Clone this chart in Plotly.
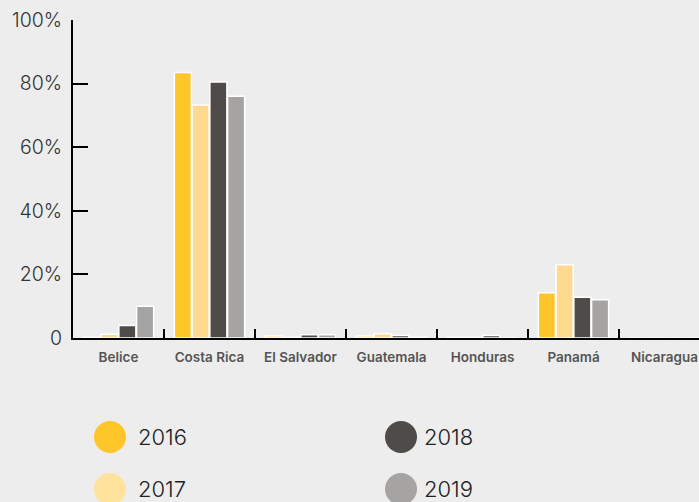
import plotly.graph_objects as go

categories = ["Belice", "Costa Rica", "El Salvador", "Guatemala", "Honduras", "Panamá", "Nicaragua"]
years = ["2016", "2017", "2018", "2019"]
v2016 = [0.2, 83.5, 0.6, 0.6, 0.2, 14.2, 0]
v2017 = [1.2, 73.3, 0.2, 1.3, 0.2, 23.0, 0]
v2018 = [3.9, 80.5, 1.0, 0.8, 0.8, 12.8, 0]
v2019 = [10.0, 76.0, 1.0, 0.2, 0.0, 12.0, 0]
series = [v2016, v2017, v2018, v2019]
colors = ["#FFC629", "#FFD98E", "#4F4B48", "#A5A4A2"]
legend_colors = ["#FFC629", "#FFE39D", "#4F4B48", "#A5A4A2"]
ytick_vals = [0, 20, 40, 60, 80, 100]
ytick_text = ["0", "20%", "40%", "60%", "80%", "100%"]

FONT = "Inter"
fig = go.Figure()
for name, vals, col in zip(years, series, colors):
    fig.add_trace(go.Bar(
        x=categories, y=vals, name=name,
        marker=dict(color=col, line=dict(color="white", width=1.5)),
        showlegend=False,
    ))

W, H = 699, 502
L, R, T, B = 73, 0, 20, 164
pw, ph = W - L - R, H - T - B

fig.update_layout(
    width=W, height=H,
    margin=dict(l=L, r=R, t=T, b=B),
    paper_bgcolor="#EDEDED", plot_bgcolor="#EDEDED",
    barmode="group", bargap=0.22, bargroupgap=0.04,
    font=dict(family=FONT, color="#333"),
)
fig.update_xaxes(
    range=[-0.5, -0.5 + pw / 91.0],
    showgrid=False, zeroline=False,
    showline=True, linecolor="black", linewidth=2,
    ticks="inside", tickson="boundaries", ticklen=9, tickwidth=2, tickcolor="black",
    tickfont=dict(family=FONT, size=13.5, color="#555", weight=600),
    ticklabelstandoff=6,
)
fig.update_yaxes(
    range=[0, 100],
    tickvals=ytick_vals, ticktext=ytick_text,
    showgrid=False, zeroline=False,
    showline=True, linecolor="black", linewidth=2,
    ticks="inside", ticklen=15, tickwidth=2, tickcolor="black",
    tickfont=dict(family=FONT, size=19.5, color="#333", weight=300),
    ticklabelstandoff=5,
)

# manual legend (two columns)
circles = [(110, 437), (110, 489), (401, 437), (401, 489)]
text_x = [136, 136, 422, 422]
for (px, py), tx, name, col in zip(circles, text_x, years, legend_colors):
    xa = (px - L) / pw
    ya = (H - B - py) / ph
    fig.add_shape(type="circle", xref="paper", yref="paper",
                  xsizemode="pixel", ysizemode="pixel",
                  xanchor=xa, yanchor=ya, x0=-16, x1=16, y0=-16, y1=16,
                  fillcolor=col, line=dict(width=0))
    fig.add_annotation(xref="paper", yref="paper", x=(tx - L) / pw, y=ya,
                       text=name, showarrow=False, xanchor="left", yanchor="middle",
                       font=dict(family=FONT, size=22, color="#222", weight=300))

fig.write_html("out.html", config={"displayModeBar": False},
               post_script="document.body.style.margin='0';document.body.style.background='#EDEDED';")
